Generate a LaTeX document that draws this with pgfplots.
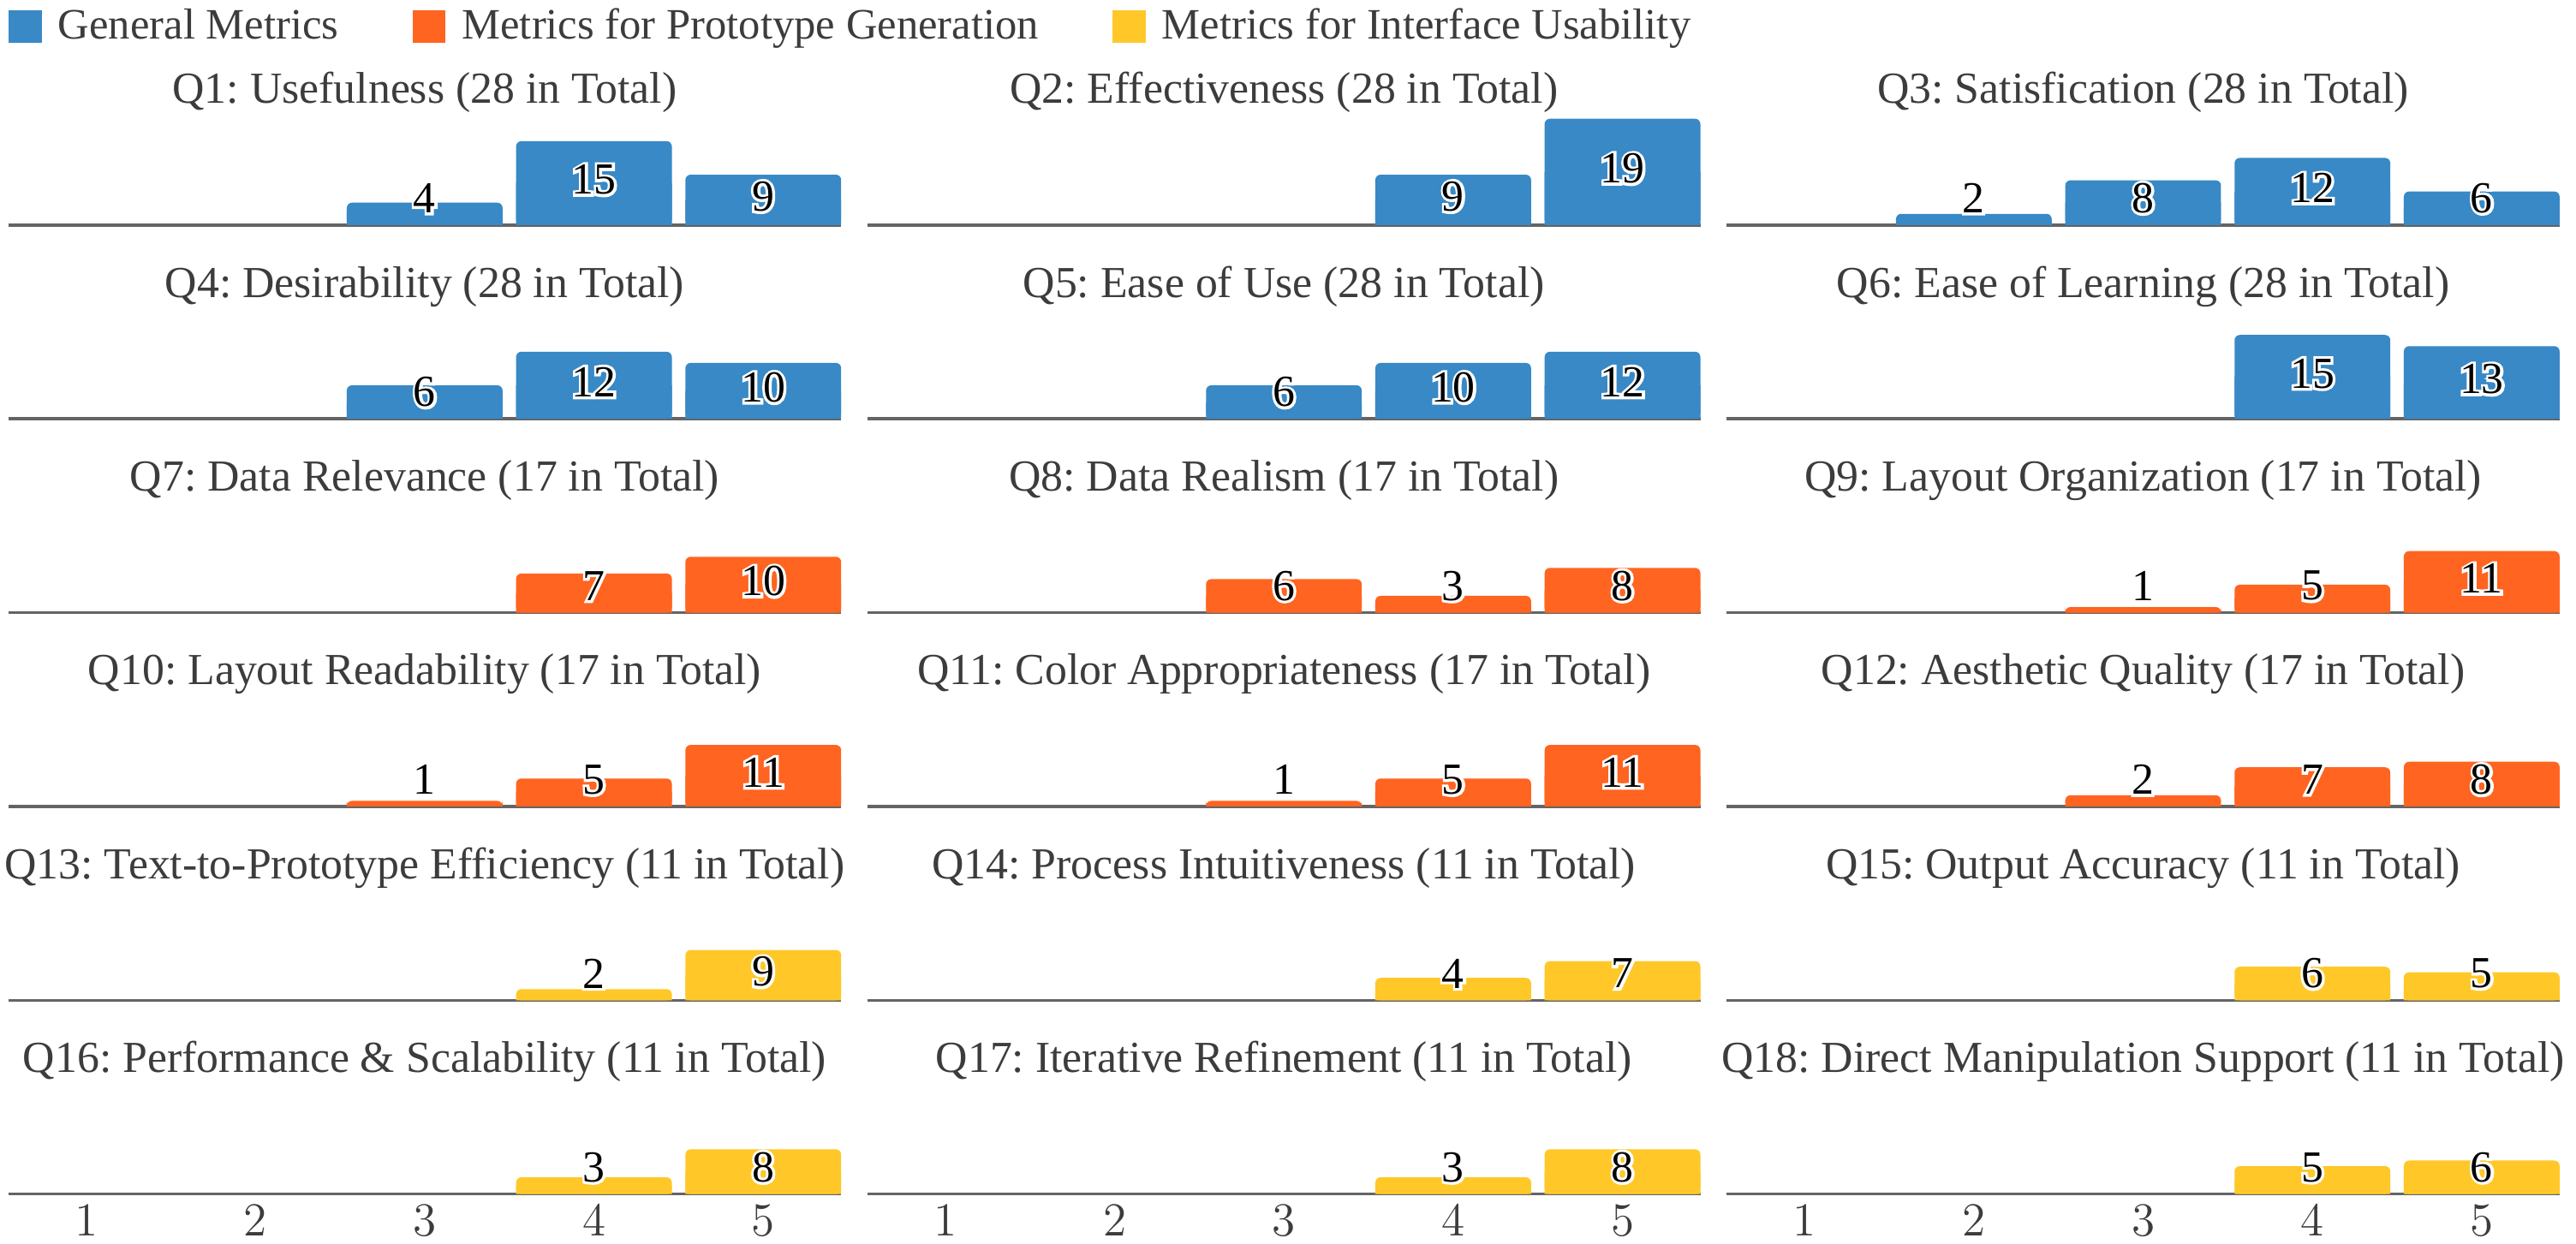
\documentclass[border=0pt]{standalone}
\usepackage{fontspec}
\setmainfont{Liberation Serif}
\newfontface\halofont{Liberation Serif}[FakeBold=12]
\usepackage{pgfplots}
\pgfplotsset{compat=1.18}
\definecolor{cblue}{RGB}{56,137,198}
\definecolor{corange}{RGB}{255,100,32}
\definecolor{cyellow}{RGB}{255,200,40}
\definecolor{tgray}{RGB}{60,60,60}
\definecolor{lgray}{RGB}{100,100,100}
\newcommand{\fs}{\fontsize{13.5}{16}\selectfont}
\newcommand{\fl}{\fontsize{13.2}{16}\selectfont}
\newcommand{\halo}[1]{\rlap{{\halofont\color{white}#1}}#1}
\frenchspacing
\pgfplotsset{
  panel/.style={
    scale only axis, width=253.5pt, height=34.9pt,
    xmin=0.54, xmax=5.46, ymin=0, ymax=20.5,
    hide y axis, axis x line*=bottom,
    x axis line style={-, draw=lgray, line width=0.9pt},
    xtick style={draw=none},
    major tick length=0pt,
    enlargelimits=false,
    title style={at={(0.5,0)}, anchor=base, yshift=31pt, font=\fs, text=tgray},
    ticklabel style={font=\fs, text=tgray},
    anchor=south west,
  },
  bottomrow/.style={xtick={1,2,3,4,5}},
  otherrow/.style={xtick=\empty},
  legsq/.style={
    legend columns=3,
    legend image code/.code={\fill[#1] (0pt,-5pt) rectangle (10pt,5pt);},
    legend style={at={(0,0)}, anchor=west, yshift=60.5pt, draw=none, fill=none, inner sep=0pt,
      font=\fl, text=tgray, nodes={inner sep=0pt},
      /tikz/every odd column/.append style={column sep=5pt},
      /tikz/every even column/.append style={column sep=22.5pt}},
  },
}
\newcommand{\panel}[7]{%
  \begin{axis}[panel, at={(#1,#2)}, title={#4}, #6]
    #7
    \addplot[ybar, bar width=0.92, bar shift=0pt, fill=#3, draw=none, rounded corners=1.6pt, forget plot] table[x=x, y=v, row sep=\\]{#5};
    \addplot[ybar, bar width=0.92, bar shift=0pt, fill=#3, draw=none, forget plot] table[x=x, y expr=\thisrow{v}/2, row sep=\\]{#5};
    \addplot[draw=none, no markers, forget plot, point meta=explicit,
      nodes near coords={\halo{\pgfmathprintnumber[assume math mode=true]{\pgfplotspointmeta}}},
      every node near coord/.append style={anchor=center, font=\fs, text=black}]
      table[x=x, y expr={max(\thisrow{v}/2+0.6,4.8)}, meta=v, row sep=\\]{#5};
  \end{axis}
}
\begin{document}
\begin{tikzpicture}
\useasboundingbox (0,0) rectangle (784pt,-378.5pt);
% Row 1
\panel{2.5pt}{-68.5pt}{cblue}{Q1: Usefulness (28 in Total)}{x v\\3 4\\4 15\\5 9\\}{otherrow, legsq}{%
  \addlegendimage{fill=cblue, draw=none}\addlegendentry{General Metrics}
  \addlegendimage{fill=corange, draw=none}\addlegendentry{Metrics for Prototype Generation}
  \addlegendimage{fill=cyellow, draw=none}\addlegendentry{Metrics for Interface Usability}}
\panel{264pt}{-68.5pt}{cblue}{Q2: Effectiveness (28 in Total)}{x v\\4 9\\5 19\\}{otherrow}{}
\panel{525.5pt}{-68.5pt}{cblue}{Q3: Satisfication (28 in Total)}{x v\\2 2\\3 8\\4 12\\5 6\\}{otherrow}{}
% Row 2
\panel{2.5pt}{-127.5pt}{cblue}{Q4: Desirability (28 in Total)}{x v\\3 6\\4 12\\5 10\\}{otherrow}{}
\panel{264pt}{-127.5pt}{cblue}{Q5: Ease of Use (28 in Total)}{x v\\3 6\\4 10\\5 12\\}{otherrow}{}
\panel{525.5pt}{-127.5pt}{cblue}{Q6: Ease of Learning (28 in Total)}{x v\\4 15\\5 13\\}{otherrow}{}
% Row 3
\panel{2.5pt}{-186.5pt}{corange}{Q7: Data Relevance (17 in Total)}{x v\\4 7\\5 10\\}{otherrow}{}
\panel{264pt}{-186.5pt}{corange}{Q8: Data Realism (17 in Total)}{x v\\3 6\\4 3\\5 8\\}{otherrow}{}
\panel{525.5pt}{-186.5pt}{corange}{Q9: Layout Organization (17 in Total)}{x v\\3 1\\4 5\\5 11\\}{otherrow}{}
% Row 4
\panel{2.5pt}{-245.5pt}{corange}{Q10: Layout Readability (17 in Total)}{x v\\3 1\\4 5\\5 11\\}{otherrow}{}
\panel{264pt}{-245.5pt}{corange}{Q11: Color Appropriateness (17 in Total)}{x v\\3 1\\4 5\\5 11\\}{otherrow}{}
\panel{525.5pt}{-245.5pt}{corange}{Q12: Aesthetic Quality (17 in Total)}{x v\\3 2\\4 7\\5 8\\}{otherrow}{}
% Row 5
\panel{2.5pt}{-304.5pt}{cyellow}{Q13: Text-to-Prototype Efficiency (11 in Total)}{x v\\4 2\\5 9\\}{otherrow}{}
\panel{264pt}{-304.5pt}{cyellow}{Q14: Process Intuitiveness (11 in Total)}{x v\\4 4\\5 7\\}{otherrow}{}
\panel{525.5pt}{-304.5pt}{cyellow}{Q15: Output Accuracy (11 in Total)}{x v\\4 6\\5 5\\}{otherrow}{}
% Row 6
\panel{2.5pt}{-363.5pt}{cyellow}{Q16: Performance \& Scalability (11 in Total)}{x v\\4 3\\5 8\\}{bottomrow}{}
\panel{264pt}{-363.5pt}{cyellow}{Q17: Iterative Refinement (11 in Total)}{x v\\4 3\\5 8\\}{bottomrow}{}
\panel{525.5pt}{-363.5pt}{cyellow}{Q18: Direct Manipulation Support (11 in Total)}{x v\\4 5\\5 6\\}{bottomrow}{}
\end{tikzpicture}
\end{document}
